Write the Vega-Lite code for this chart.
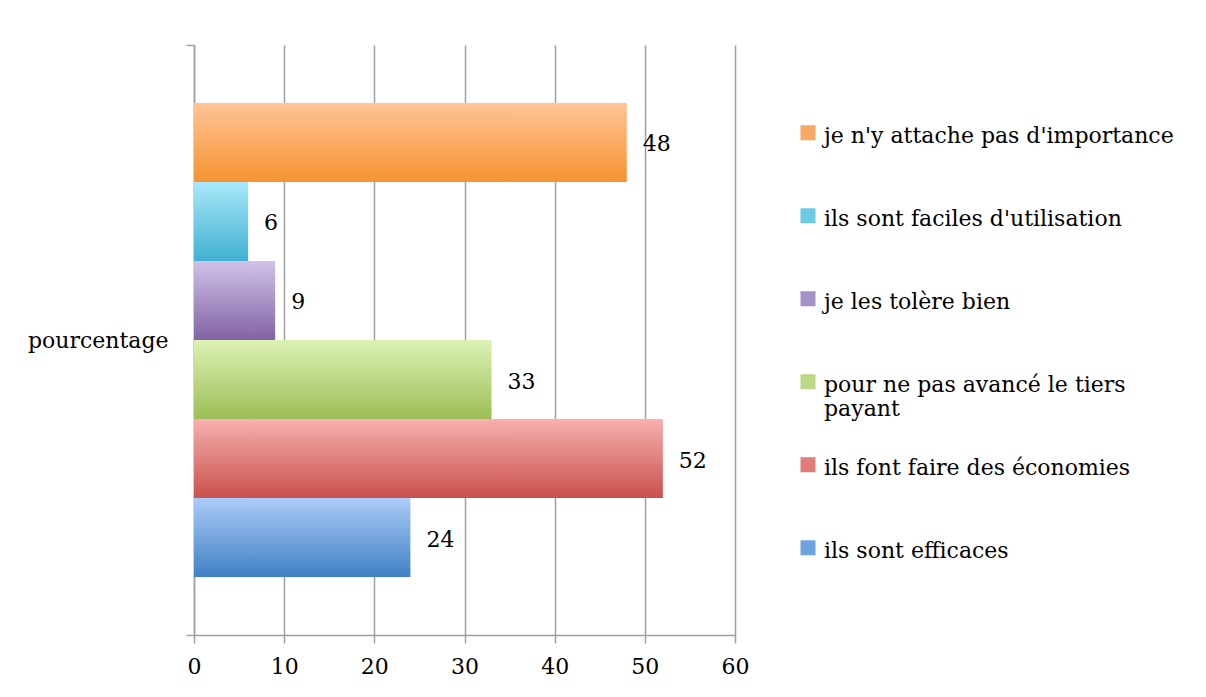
{
  "$schema": "https://vega.github.io/schema/vega-lite/v6.json",
  "autosize": "none",
  "width": 541,
  "height": 590,
  "padding": {"left": 194, "top": 45, "right": 471, "bottom": 62},
  "background": "white",
  "data": {"values": [
    {"cat": "pourcentage", "series": "je n'y attache pas d'importance", "value": 48},
    {"cat": "pourcentage", "series": "ils sont faciles d'utilisation", "value": 6},
    {"cat": "pourcentage", "series": "je les tolère bien", "value": 9},
    {"cat": "pourcentage", "series": "pour ne pas avancé le tiers payant", "value": 33},
    {"cat": "pourcentage", "series": "ils font faire des économies", "value": 52},
    {"cat": "pourcentage", "series": "ils sont efficaces", "value": 24}
  ]},
  "config": {
    "view": {"stroke": null},
    "font": "DejaVu Serif"
  },
  "encoding": {
    "y": {"field": "cat", "type": "nominal", "scale": {"paddingInner": 0, "paddingOuter": 0},
      "axis": {"title": null, "labelFont": "DejaVu Serif", "labelFontSize": 22, "labelColor": "black",
        "labelPadding": 18, "tickBand": "extent", "tickSize": 8, "tickColor": "#a0a0a0", "tickWidth": 1.5,
        "domainColor": "#a0a0a0", "domainWidth": 1.5, "grid": false}},
    "yOffset": {"field": "series", "type": "nominal",
      "sort": ["je n'y attache pas d'importance", "ils sont faciles d'utilisation", "je les tolère bien", "pour ne pas avancé le tiers payant", "ils font faire des économies", "ils sont efficaces"],
      "scale": {"paddingInner": 0, "paddingOuter": 0.734}},
    "x": {"field": "value", "type": "quantitative", "scale": {"domain": [0, 60]},
      "axis": {"title": null, "values": [0, 10, 20, 30, 40, 50, 60], "grid": true, "gridColor": "#a0a0a0", "gridWidth": 1.5,
        "domainColor": "#a0a0a0", "domainWidth": 1.5, "tickColor": "#a0a0a0", "tickWidth": 1.5, "tickSize": 8,
        "labelFont": "DejaVu Serif", "labelFontSize": 22, "labelColor": "black", "labelPadding": 13, "labelFlush": false}}
  },
  "layer": [
    {
      "mark": {"type": "bar"},
      "encoding": {
        "color": {
          "condition": [
            {"test": "datum.series == \"je n'y attache pas d'importance\"", "value": {"gradient": "linear", "x1": 0, "y1": 0, "x2": 0, "y2": 1, "stops": [{"offset": 0, "color": "#fec497"}, {"offset": 1, "color": "#f59331"}]}},
            {"test": "datum.series == \"ils sont faciles d'utilisation\"", "value": {"gradient": "linear", "x1": 0, "y1": 0, "x2": 0, "y2": 1, "stops": [{"offset": 0, "color": "#a9e8fb"}, {"offset": 1, "color": "#40b1d0"}]}},
            {"test": "datum.series == 'je les tolère bien'", "value": {"gradient": "linear", "x1": 0, "y1": 0, "x2": 0, "y2": 1, "stops": [{"offset": 0, "color": "#d0c2e8"}, {"offset": 1, "color": "#8263a6"}]}},
            {"test": "datum.series == 'pour ne pas avancé le tiers payant'", "value": {"gradient": "linear", "x1": 0, "y1": 0, "x2": 0, "y2": 1, "stops": [{"offset": 0, "color": "#dcf2b4"}, {"offset": 1, "color": "#9dbe57"}]}},
            {"test": "datum.series == 'ils font faire des économies'", "value": {"gradient": "linear", "x1": 0, "y1": 0, "x2": 0, "y2": 1, "stops": [{"offset": 0, "color": "#f7b1ae"}, {"offset": 1, "color": "#c9504d"}]}},
            {"test": "datum.series == 'ils sont efficaces'", "value": {"gradient": "linear", "x1": 0, "y1": 0, "x2": 0, "y2": 1, "stops": [{"offset": 0, "color": "#acccf8"}, {"offset": 1, "color": "#4080c4"}]}}
          ],
          "field": "series", "type": "nominal",
          "scale": {"domain": ["je n'y attache pas d'importance", "ils sont faciles d'utilisation", "je les tolère bien", "pour ne pas avancé le tiers payant", "ils font faire des économies", "ils sont efficaces"],
            "range": ["#f9a964", "#6ccbe4", "#a591c6", "#bcd885", "#e07c79", "#6fa3de"]},
          "legend": {"title": null, "orient": "none", "legendX": 603, "legendY": 70, "padding": 0,
            "symbolType": "M-1,-0.1H1V1.9H-1Z", "symbolSize": 225, "symbolStrokeWidth": 0,
            "labelFont": "DejaVu Serif", "labelFontSize": 22, "labelColor": "black", "labelOffset": 5,
            "labelBaseline": "top",
            "labelLimit": 400, "rowPadding": 27, "gridAlign": "all",
            "labelExpr": "datum.label == 'pour ne pas avancé le tiers payant' ? ['pour ne pas avancé le tiers', 'payant'] : datum.label"}
        }
      }
    },
    {
      "mark": {"type": "text", "align": "left", "baseline": "middle", "dx": 16, "dy": 2, "fontSize": 22, "font": "DejaVu Serif", "color": "black"},
      "encoding": {"text": {"field": "value", "type": "quantitative"}}
    }
  ]
}
